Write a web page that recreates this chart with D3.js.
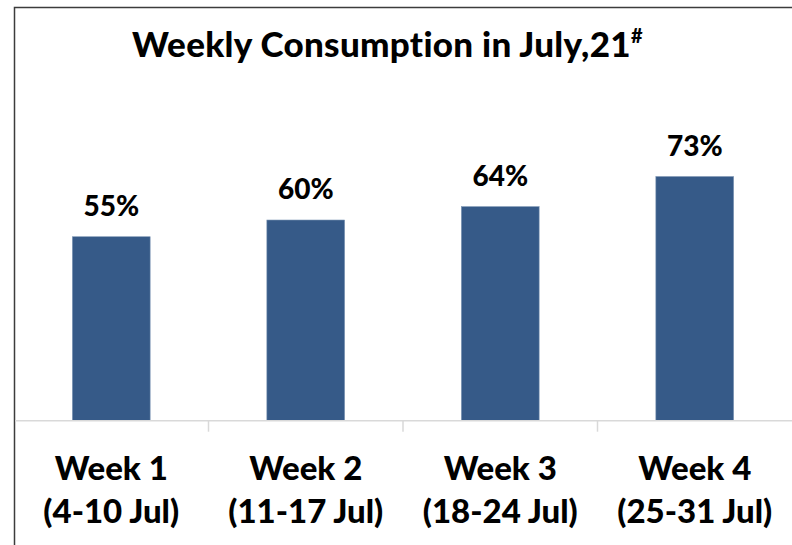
<!DOCTYPE html>
<meta charset="utf-8">
<head>
<style>
  body { margin: 0; background: #fff; }
  text { font-family: Lato, "Open Sans", sans-serif; font-weight: 900; fill: #000; }
</style>
</head>
<body>
<script src="https://cdnjs.cloudflare.com/ajax/libs/d3/7.8.5/d3.min.js"></script>
<script>

// chart data
const weeks = ["Week 1", "Week 2", "Week 3", "Week 4"];
const ranges = ["(4-10 Jul)", "(11-17 Jul)", "(18-24 Jul)", "(25-31 Jul)"];
const consumption = [55, 60, 64, 73];
const title = "Weekly Consumption in July,21";
const titleMark = "#";

const width = 792, height = 545;
const frameLeft = 14, frameTop = 7, baseY = 420.7;

const svg = d3.select("body").append("svg")
  .attr("width", width)
  .attr("height", height);

const x = d3.scaleBand()
  .domain(weeks)
  .range([frameLeft, width])
  .paddingInner(0.6)
  .paddingOuter(0.3);

const y = d3.scaleLinear()
  .domain([0, 100])
  .range([baseY, baseY - 334.5]);

// outer frame (top + left edge visible)
svg.append("path")
  .attr("d", `M${frameLeft + 0.5},${height} V${frameTop + 0.5} H${width}`)
  .attr("fill", "none")
  .attr("stroke", "#3c3c3c")
  .attr("stroke-width", 1.5);

// title
svg.append("text")
  .attr("x", 132)
  .attr("y", 57)
  .style("font-size", "35px")
  .style("letter-spacing", "0.3px")
  .text(title)
  .append("tspan")
    .attr("dy", -14)
    .style("font-size", "20px")
    .text(titleMark);

// bars
svg.append("g")
  .selectAll("rect")
  .data(consumption)
  .join("rect")
    .attr("x", (d, i) => x(weeks[i]))
    .attr("width", x.bandwidth())
    .attr("y", d => y(d))
    .attr("height", d => y(0) - y(d))
    .attr("fill", "#365a88")
    .attr("stroke", "#7f97b5")
    .attr("stroke-width", 0.6);

// value labels
svg.append("g")
  .selectAll("text")
  .data(consumption)
  .join("text")
    .attr("x", (d, i) => x(weeks[i]) + x.bandwidth() / 2)
    .attr("y", d => y(d) - 21)
    .attr("text-anchor", "middle")
    .style("font-size", "28px")
    .text(d => d + "%");

// category axis: line + ticks at category boundaries
const axis = svg.append("g");
axis.append("line")
  .attr("x1", frameLeft + 1).attr("x2", width)
  .attr("y1", baseY).attr("y2", baseY)
  .attr("stroke", "#d9d9d9")
  .attr("stroke-width", 1.5);

const gap = x.step() * x.paddingInner() / 2;
axis.selectAll(".tick")
  .data(weeks.slice(1))
  .join("line")
    .attr("class", "tick")
    .attr("x1", d => x(d) - gap).attr("x2", d => x(d) - gap)
    .attr("y1", baseY).attr("y2", baseY + 11)
    .attr("stroke", "#d9d9d9")
    .attr("stroke-width", 1.5);

const labels = axis.selectAll(".cat")
  .data(weeks)
  .join("text")
    .attr("class", "cat")
    .attr("text-anchor", "middle")
    .style("font-size", "33px");
labels.append("tspan")
  .attr("x", d => x(d) + x.bandwidth() / 2)
  .attr("y", 480)
  .text(d => d);
labels.append("tspan")
  .attr("x", d => x(d) + x.bandwidth() / 2)
  .attr("y", 523)
  .text((d, i) => ranges[i]);

</script>
</body>
